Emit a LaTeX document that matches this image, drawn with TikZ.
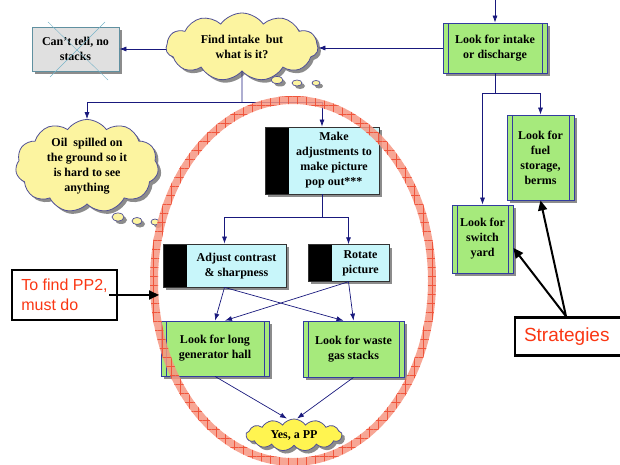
\documentclass[tikz,border=0pt]{standalone}
\usepackage{fontspec}
\setmainfont{Liberation Serif}
\newfontfamily\notefont{Liberation Sans}
\usetikzlibrary{shapes.symbols,shadows,arrows.meta,patterns.meta,positioning}

\definecolor{linkblue}{RGB}{25,25,125}
\definecolor{boxblue}{RGB}{50,60,160}
\definecolor{lookgreen}{RGB}{166,234,124}
\definecolor{tunecyan}{RGB}{200,246,250}
\definecolor{thoughtyellow}{RGB}{252,244,160}
\definecolor{yesyellow}{RGB}{255,244,80}
\definecolor{cloudline}{RGB}{80,80,150}
\definecolor{notered}{RGB}{250,55,20}
\definecolor{ringred}{RGB}{246,150,130}
\definecolor{ringhatch}{RGB}{240,85,60}
\definecolor{crossteal}{RGB}{120,180,200}

\newcommand{\boxfont}{\fontsize{12}{15}\selectfont\bfseries}
\newcommand{\padtext}[1]{\hspace*{24pt}\begin{tabular}{@{}c@{}}#1\end{tabular}}

\tikzset{
  shade/.style={drop shadow={shadow xshift=3pt,shadow yshift=-3pt,fill=black!45,opacity=1}},
  flow/.style={draw=linkblue,line width=0.7pt,-{Latex[length=7pt,width=5pt]}},
  pointer/.style={draw=black,line width=2pt,-{Triangle[length=10pt,width=9pt]}},
  lookbox/.style={rectangle,draw=boxblue,line width=0.8pt,fill=lookgreen,shade,align=center,font=\boxfont,
    path picture={\draw[boxblue,line width=0.8pt]
      ([xshift=5pt]path picture bounding box.north west) -- ([xshift=5pt]path picture bounding box.south west)
      ([xshift=-5pt]path picture bounding box.north east) -- ([xshift=-5pt]path picture bounding box.south east);}},
  tunebox/.style={rectangle,draw=black!80,line width=0.8pt,fill=tunecyan,shade,font=\boxfont,
    path picture={\fill[black] (path picture bounding box.north west) rectangle ([xshift=24pt]path picture bounding box.south west);}},
  thought/.style={cloud,cloud puffs=11,cloud puff arc=110,cloud ignores aspect,draw=cloudline,line width=0.8pt,
    fill=thoughtyellow,shade,align=center,font=\boxfont,inner sep=0pt},
  bubble/.style={draw=cloudline,line width=0.7pt,fill=thoughtyellow,shade},
  note/.style={rectangle,draw=black,line width=2.4pt,fill=white,text=notered,align=left}
}

\begin{document}
\begin{tikzpicture}[x=1pt,y=-1pt]
\useasboundingbox (0,0) rectangle (620,465);

\node [rectangle,draw=crossteal!80!black,line width=0.8pt,fill=black!12,shade,minimum width=87pt,minimum height=44pt,align=center,font=\boxfont] (cant) at (75.5,49) {Can't tell, no\\stacks};
\draw [crossteal] (48,22) -- (108,80) (105,22) -- (50,77);

\node [thought,minimum width=152pt,minimum height=68pt] (find) at (242,47) {Find intake~ but\\what is it?};
\filldraw [bubble] (277,80) ellipse [x radius=6pt,y radius=3.5pt];
\filldraw [bubble] (297,83) ellipse [x radius=5pt,y radius=3pt];
\filldraw [bubble] (316,83) ellipse [x radius=4pt,y radius=2.5pt];

\node [thought,minimum width=143pt,minimum height=93pt] (oil) at (87,166) {Oil~ spilled on\\the ground so it\\is hard to see\\anything};
\filldraw [bubble] (118,217) ellipse [x radius=6pt,y radius=4pt];
\filldraw [bubble] (137,221) ellipse [x radius=5pt,y radius=3.5pt];
\filldraw [bubble] (155,222) ellipse [x radius=4pt,y radius=3pt];

\node [lookbox,minimum width=104pt,minimum height=50pt] (intake) at (495,48) {Look for intake\\or discharge};
\node [lookbox,minimum width=67pt,minimum height=85pt] (fuel) at (540.5,157.5) {Look for\\fuel\\storage,\\berms};
\node [lookbox,minimum width=61pt,minimum height=68pt] (switch) at (482.5,239) {Look for\\switch\\yard};

\node [tunebox,minimum width=114pt,minimum height=67pt] (make) at (322,160.5) {\padtext{Make\\adjustments to\\make picture\\pop out***}};
\node [tunebox,minimum width=123pt,minimum height=43pt] (adjust) at (224.5,265.5) {\padtext{Adjust contrast\\\& sharpness}};
\node [tunebox,minimum width=81pt,minimum height=36pt] (rotate) at (348.5,263) {\padtext{Rotate\\picture}};

\node [lookbox,minimum width=108pt,minimum height=55pt] (hall) at (215,348.5) {Look for long\\generator hall};
\node [lookbox,minimum width=101pt,minimum height=56pt] (waste) at (353.5,349) {Look for waste\\gas stacks};

\node [thought,cloud puffs=13,fill=yesyellow,minimum width=96pt,minimum height=32pt] (yes) at (294,435) {Yes, a PP};

\node [note,minimum width=105pt,minimum height=50pt,font=\notefont\fontsize{16}{20}\selectfont] (pp2) at (64.5,295) {To find PP2,\\must do};
\node [note,minimum width=110pt,minimum height=38pt,font=\notefont\fontsize{19}{22}\selectfont,text width=100pt] (strat) at (570,336.5) {\hspace*{4pt}Strategies};

\coordinate (entry) at (495,0);
\coordinate (split1) at (242,102);
\coordinate (split2) at (495,93);
\coordinate (split3) at (322,217);
\coordinate (ring) at (159,295);

\draw [flow] (entry) -- (intake.north);
\draw [flow] (intake.west) -- (find.east |- intake.west);
\draw [flow] (find.west |- cant.east) -- (cant.east);
\draw [draw=linkblue,line width=0.7pt] (find.south) -- (split1);
\draw [flow] (split1) -| (oil.north);
\draw [flow] (split1) -| (make.north);
\draw [draw=linkblue,line width=0.7pt] (intake.south) -- (split2);
\draw [flow] (split2) -| (switch.north);
\draw [flow] (split2) -| (fuel.north);
\draw [draw=linkblue,line width=0.7pt] (make.south) -- (split3);
\draw [flow] (split3) -| (adjust.north);
\draw [flow] (split3) -| (rotate.north);
\draw [flow] (adjust.south) -- (hall.north);
\draw [flow] (adjust.south) -- ([xshift=-10pt]waste.north);
\draw [flow] (rotate.south) -- ([xshift=10pt]hall.north);
\draw [flow] (rotate.south) -- (waste.north);
\draw [flow] (hall.south) -- ([xshift=-7pt]yes.north);
\draw [flow] (waste.south) -- ([xshift=3pt]yes.north);

\fill [ringred,opacity=0.85,even odd rule] (293,281) ellipse [x radius=143pt,y radius=185pt] (293,281) ellipse [x radius=135pt,y radius=177pt];
\path [pattern={Lines[distance=9pt,angle=0,line width=0.3pt]},pattern color=ringhatch,even odd rule] (293,281) ellipse [x radius=143pt,y radius=185pt] (293,281) ellipse [x radius=135pt,y radius=177pt];
\path [pattern={Lines[distance=9pt,angle=90,line width=0.3pt]},pattern color=ringhatch,even odd rule] (293,281) ellipse [x radius=143pt,y radius=185pt] (293,281) ellipse [x radius=135pt,y radius=177pt];

\draw [pointer] ([xshift=-9pt]pp2.east) -- (ring);
\draw [pointer] ([xshift=-4pt]strat.north) -- ([yshift=-9pt]switch.east);
\draw [pointer] ([xshift=-4pt]strat.north) -- (fuel.south);
\end{tikzpicture}
\end{document}
